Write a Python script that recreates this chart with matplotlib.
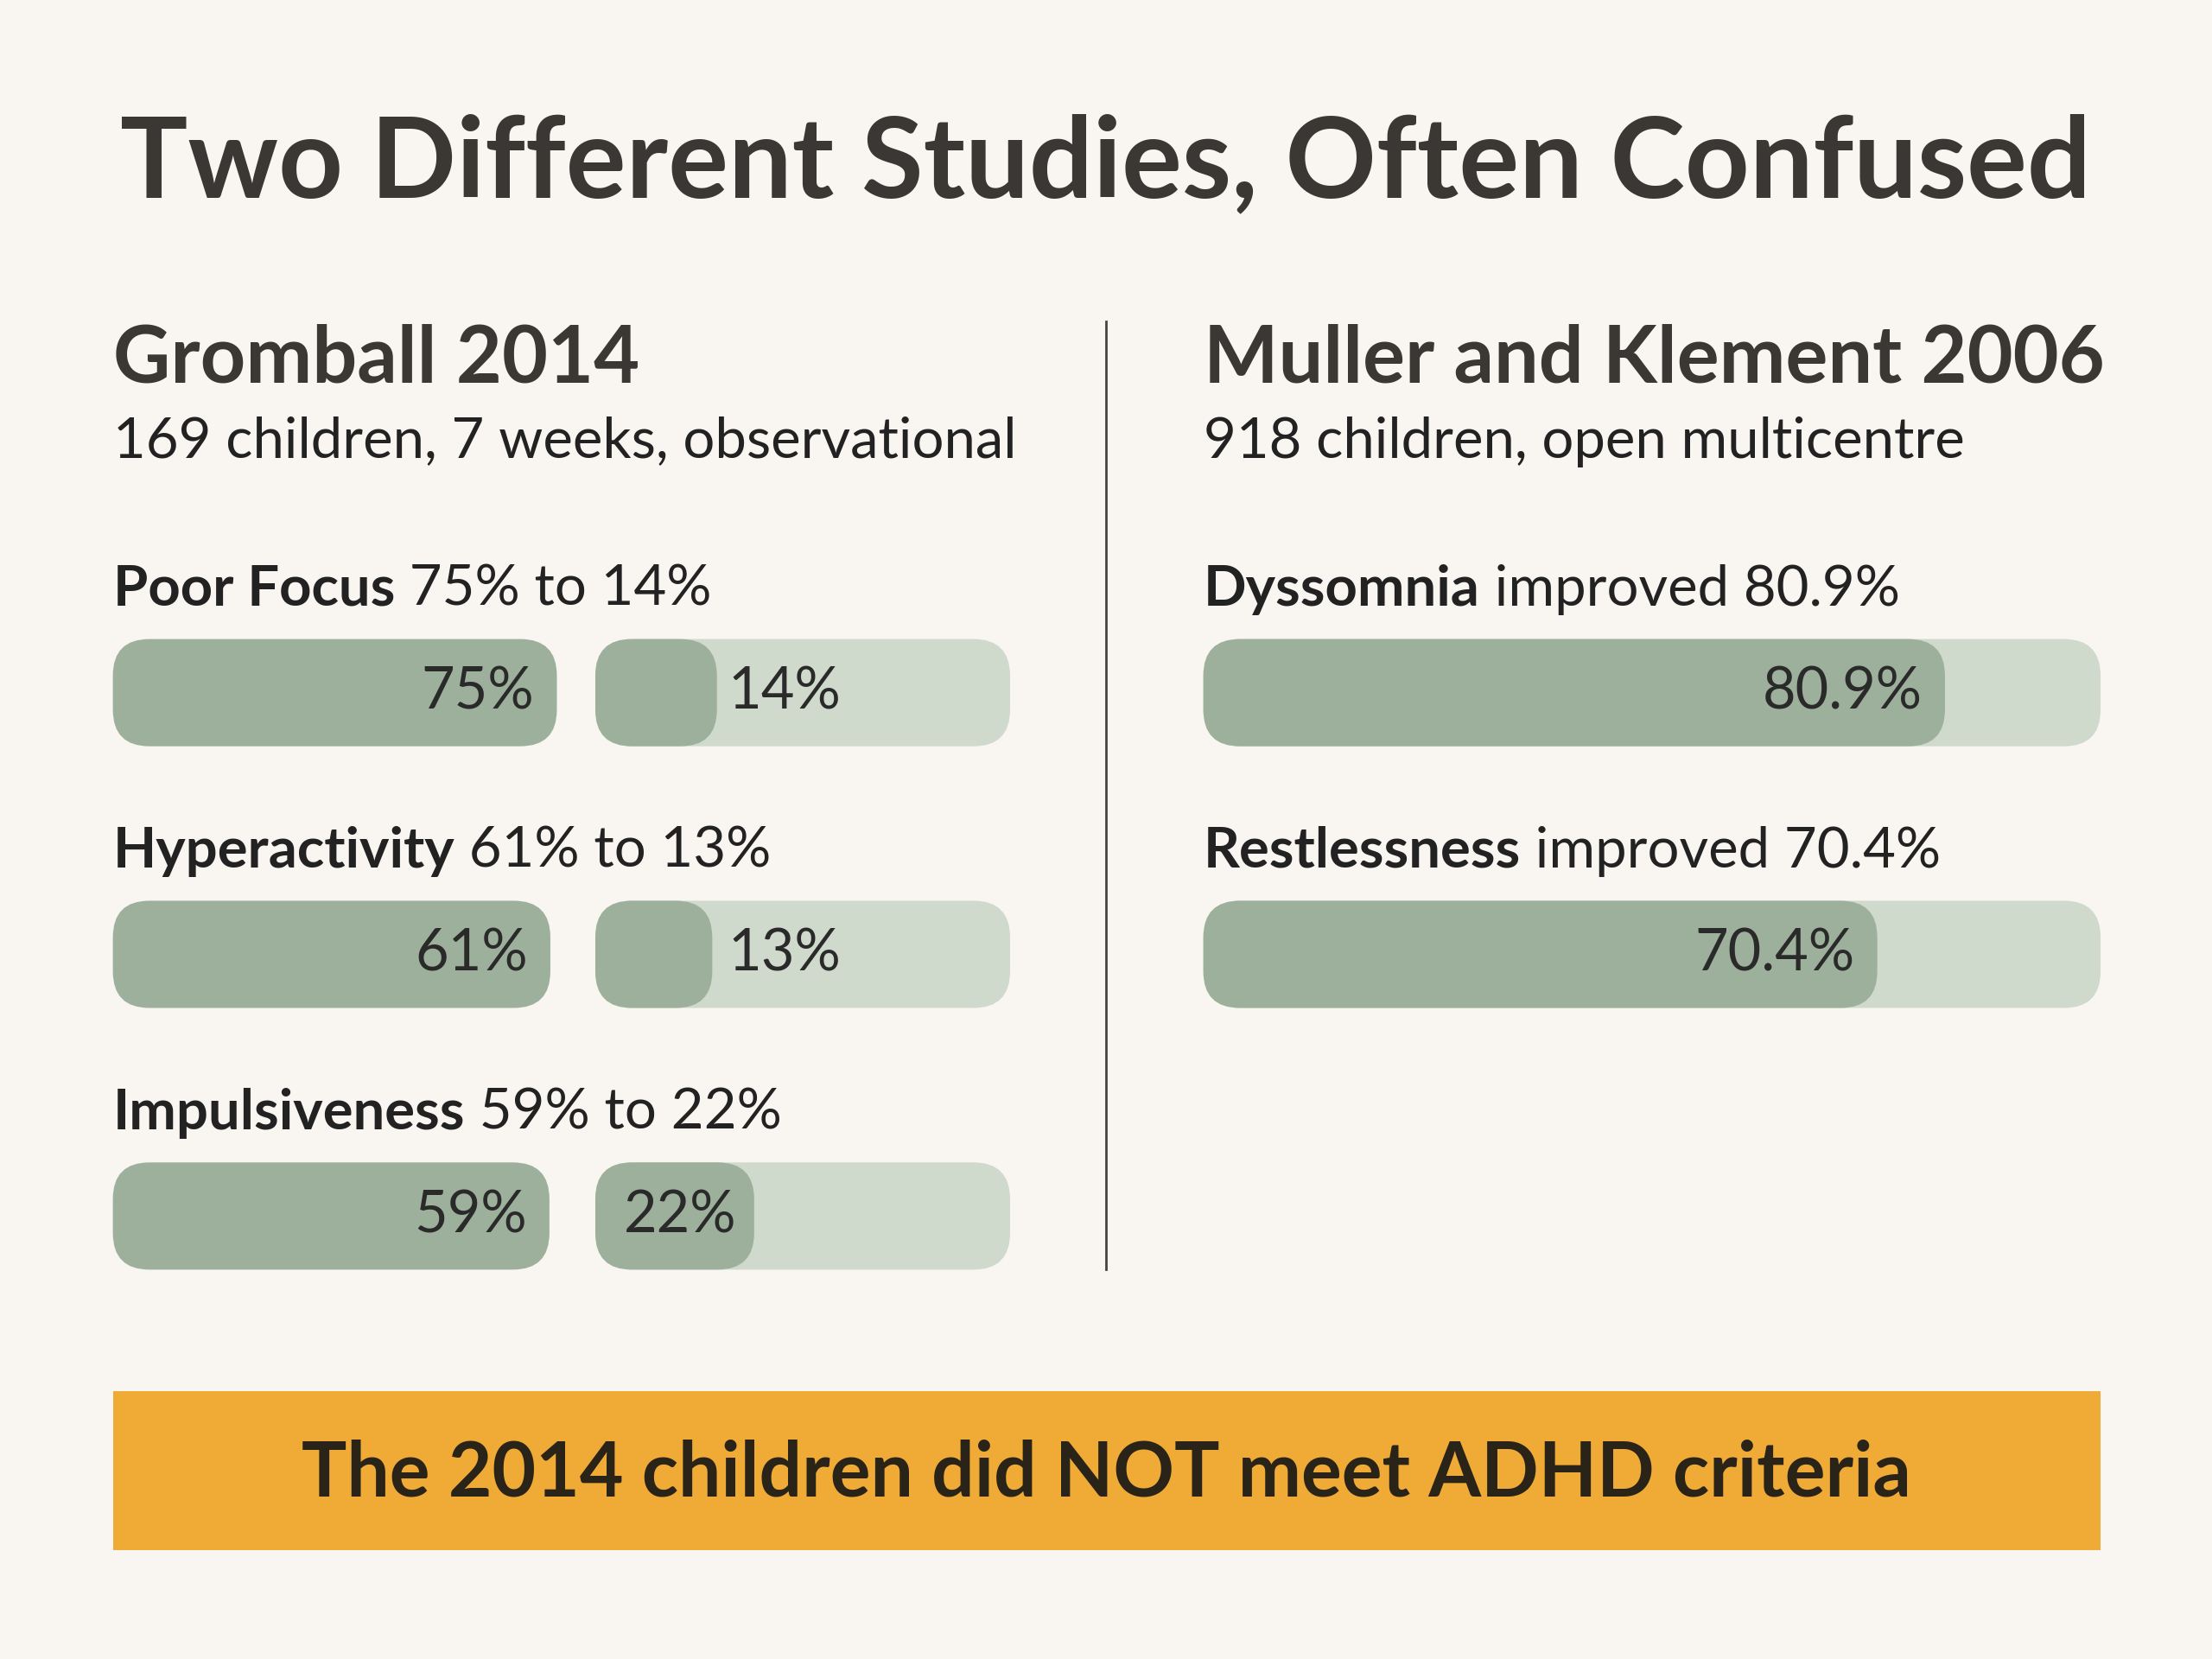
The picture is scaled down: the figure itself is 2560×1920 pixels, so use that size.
import matplotlib
matplotlib.use("Agg")
import matplotlib.pyplot as plt
from matplotlib.patches import FancyBboxPatch, Rectangle

title = "Two Different Studies, Often Confused"
left_head = "Gromball 2014"
left_sub = "169 children, 7 weeks, observational"
right_head = "Muller and Klement 2006"
right_sub = "918 children, open multicentre"
left_cats = ["Poor Focus", "Hyperactivity", "Impulsiveness"]
before = [75, 61, 59]
after = [14, 13, 22]
right_cats = ["Dyssomnia", "Restlessness"]
improved = [80.9, 70.4]
banner = "The 2014 children did NOT meet ADHD criteria"

BG = "#f9f5f1"; DARK = "#9db09b"; LIGHT = "#cfd9cc"; TXT = "#3b3735"
plt.rcParams['font.family'] = ['Lato', 'DejaVu Sans']

fig = plt.figure(figsize=(12.8, 9.6), dpi=200, facecolor=BG)
ax = fig.add_axes([0, 0, 1, 1])
ax.set_xlim(0, 1568); ax.set_ylim(1176, 0); ax.axis('off')
ax.set_facecolor(BG)

def rbar(x, y, w, h, c, z=1):
    r = 26
    ax.add_patch(FancyBboxPatch((x + r, y + r), max(w - 2 * r, 0.1), h - 2 * r,
                                boxstyle=f"round,pad={r}", fc=c, ec='none', zorder=z))

fig.canvas.draw()
rend = fig.canvas.get_renderer()
def mixed(x, y, bold, rest, size):
    t = ax.text(x, y, bold, fontsize=size, fontweight='bold', color='#222', va='center')
    bb = t.get_window_extent(rend)
    inv = ax.transData.inverted()
    x1 = inv.transform((bb.x1, bb.y0))[0]
    ax.text(x1, y, " " + rest, fontsize=size, color='#222', va='center')

ax.text(784, 117, title, fontsize=47, fontweight='bold', color=TXT, ha='center', va='center')
ax.text(80, 255, left_head, fontsize=33, fontweight='bold', color=TXT, va='center')
ax.text(80, 313, left_sub, fontsize=23.5, color='#222', va='center')
ax.text(853, 255, right_head, fontsize=33, fontweight='bold', color=TXT, va='center')
ax.text(853, 313, right_sub, fontsize=23.5, color='#222', va='center')
ax.plot([784, 784], [228, 900], color='#444', lw=1)

BH = 76
for i, (c, b, a) in enumerate(zip(left_cats, before, after)):
    ly = 418 + i * 185.5
    by = 453 + i * 185.5
    mixed(80, ly, c, f"{b}% to {a}%", 23.5)
    wb = 290 + b * 0.33
    rbar(80, by, wb, BH, DARK)
    ax.text(80 + wb - 16, by + BH / 2, f"{b}%", fontsize=24, color='#2a2a2a', ha='right', va='center', zorder=3)
    rbar(422, by, 294, BH, LIGHT)
    wa = 40 + a * 3.3
    rbar(422, by, wa, BH, DARK, 2)
    ax.text(422 + 94 if a < 20 else 442, by + BH / 2, f"{a}%", fontsize=24, color='#2a2a2a', ha='left', va='center', zorder=3)

for i, (c, v) in enumerate(zip(right_cats, improved)):
    ly = 418 + i * 185.5
    by = 453 + i * 185.5
    mixed(853, ly, c, f"improved {v}%", 23.5)
    rbar(853, by, 636, BH, LIGHT)
    w = 156 + v * 4.57
    rbar(853, by, w, BH, DARK, 2)
    ax.text(853 + w - 16, by + BH / 2, f"{v}%", fontsize=24, color='#2a2a2a', ha='right', va='center', zorder=3)

ax.add_patch(Rectangle((80, 986), 1409, 113, fc='#f0ab37', ec='none'))
ax.text(784, 1045, banner, fontsize=31.5, fontweight='bold', color='#2a2418', ha='center', va='center')

fig.savefig("out.png", dpi=200, facecolor=BG)
